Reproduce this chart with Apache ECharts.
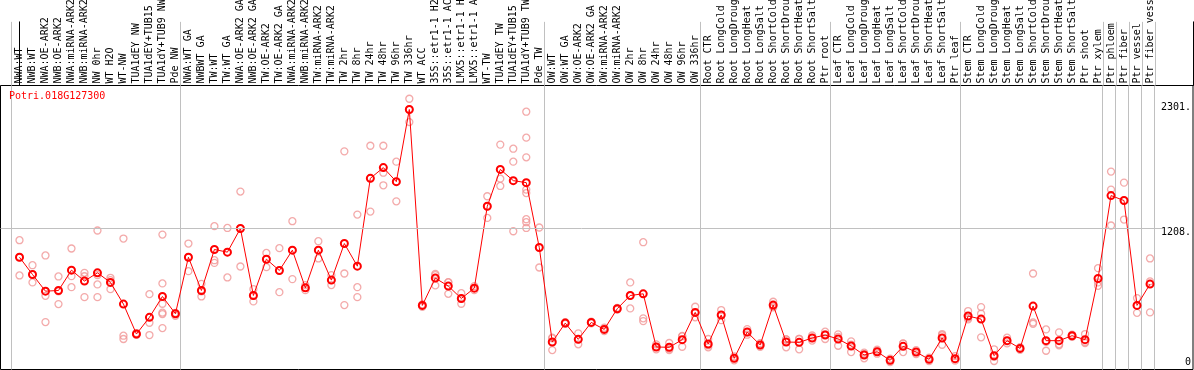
<!DOCTYPE html>
<html><head><meta charset="utf-8">
<script src="https://cdn.jsdelivr.net/npm/echarts@6/dist/echarts.min.js"></script>
<style>html,body{margin:0;padding:0;background:#fff}#c{width:1194px;height:370px}</style>
</head><body><div id="c"></div>
<script>
const geneId = 'Potri.018G127300';
const categories = [
 'NWA:WT','NWB:WT','NWA:OE-ARK2','NWB:OE-ARK2','NWA:miRNA-ARK2','NWB:miRNA-ARK2','NW 0hr','WT H2O','WT-NW','TUA1dEY NW','TUA1dEY+TUB15 NW','TUA1dY+TUB9 NW','Pde NW',
 'NWA:WT GA','NWBWT GA','TW:WT','TW:WT GA','NWA:OE-ARK2 GA','NWB:OE-ARK2 GA','TW:OE-ARK2','TW:OE-ARK2 GA','NWA:miRNA-ARK2 GA','NWB:miRNA-ARK2 GA','TW:miRNA-ARK2','TW:miRNA-ARK2 GA',
 'TW 2hr','TW 8hr','TW 24hr','TW 48hr','TW 96hr','TW 336hr','WT ACC','35S::etr1-1 H2O','35S::etr1-1 ACC','LMX5::etr1-1 H2O','LMX5::etr1-1 ACC','WT-TW','TUA1dEY TW','TUA1dEY+TUB15 TW','TUA1dY+TUB9 TW','Pde TW',
 'OW:WT','OW:WT GA','OW:OE-ARK2','OW:OE-ARK2 GA','OW:miRNA-ARK2','OW:miRNA-ARK2 GA','OW 2hr','OW 8hr','OW 24hr','OW 48hr','OW 96hr','OW 336hr',
 'Root CTR','Root LongCold','Root LongDrought','Root LongHeat','Root LongSalt','Root ShortCold','Root ShortDrought','Root ShortHeat','Root ShortSalt','Ptr root',
 'Leaf CTR','Leaf LongCold','Leaf LongDrought','Leaf LongHeat','Leaf LongSalt','Leaf ShortCold','Leaf ShortDrought','Leaf ShortHeat','Leaf ShortSalt','Ptr leaf',
 'Stem CTR','Stem LongCold','Stem LongDrought','Stem LongHeat','Stem LongSalt','Stem ShortCold','Stem ShortDrought','Stem ShortHeat','Stem ShortSalt','Ptr shoot','Ptr xylem',
 'Ptr phloem','Ptr fiber','Ptr vessel','Ptr fiber vessel'
];
const means = [
 948,792,641,647,831,732,807,720,524,253,404,593,437,
 948,647,1018,994,1208,602,930,828,1012,671,1012,741,1072,867,1662,1759,1632,2285,512,759,687,575,668,1409,1743,1641,1623,1036,
 181,352,205,358,295,482,602,617,136,133,202,449,
 163,425,33,271,154,515,181,178,217,244,
 208,145,63,93,15,142,90,24,217,30,
 416,388,57,193,123,506,193,193,238,202,756,
 1506,1461,512,705
];
const replicates = [
 [1102,948,783],[876,792,720],[964,599,361],[774,640,524],[1027,777,677],[807,776,587],[1190,786,702,587],[762,740,659],[1117,238,208],[262,250,247],[614,355,244],[1153,711,527,446,434,307],[445,437,418],
 [1072,948,822],[707,640,593],[1229,921,897],[1213,994,765],[1542,1208,864],[659,600,548],[987,930,858],[1030,828,632],[1274,1012,750],[696,671,650],[1093,1012,937],[786,741,696],
 [1906,801,515],[1334,677,587],[1957,1662,1361],[1957,1713,1599],[1813,1632,1454],[2382,2285,2171],[522,512,500],[798,786,693],[723,720,617],[623,575,527],[687,668,650],[1500,1409,1304],[1967,1659,1593],[1930,1813,1183],[2265,2030,1852,1560,1529,1292,1265,1213],[1217,1036,855],
 [214,220,108],[360,352,345],[259,205,160],[365,358,350],[310,295,280],[490,482,475],[720,602,485],[1084,395,370],[160,136,115],[172,120,108],[232,236,138],[500,445,404],
 [208,150,133],[470,425,379],[50,33,15],[298,268,247],[170,154,138],[545,505,494],[205,205,133],[208,210,115],[240,217,194],[274,250,208],
 [250,227,147],[187,158,90],[84,72,33],[111,93,75],[30,15,0],[169,167,90],[108,90,72],[40,24,8],[253,242,156],[54,24,12],
 [461,400,386],[497,437,223],[115,47,9],[220,190,169],[135,123,111],[801,358,346],[295,182,102],[268,160,151],[248,238,228],[253,172,181],[849,720,689],
 [1723,1560,1235],[1623,1461,1289],[578,512,445],[937,730,449]
];
const yTickValues = [0, 1208, 2301];
const referenceLine = 1208;
const groupStarts = [0, 13, 41, 53, 63, 73, 84, 85, 86, 87, 88];

// layout helpers
const X_MIN = -1.4615, X_MAX = 90.308;
const Y_MIN = -67.87, Y_MAX = 2502;
const boundaries = groupStarts.map(s => s - 0.64);
const catIdx = categories.map((c, i) => i);
const meanData = means.map((v, i) => [i, v]);
const repData = [];
replicates.forEach((arr, i) => arr.forEach(v => repData.push([i, v])));

const FONT = 'DejaVu Sans Mono';
const chart = echarts.init(document.getElementById('c'), null, {renderer: 'canvas'});
chart.setOption({
  animation: false,
  backgroundColor: '#fff',
  title: {
    text: geneId, left: 9, top: 91, padding: 0,
    textStyle: {color: '#ff0000', fontFamily: FONT, fontSize: 10, fontWeight: 'normal'}
  },
  grid: [
    {left: 0.5, right: 0.5, top: 85.5, bottom: 0.5, show: true, borderColor: '#000', borderWidth: 1, backgroundColor: 'transparent'},
    {left: 0.5, right: 0.5, top: 0, height: 85.5, show: false}
  ],
  xAxis: [
    {type: 'value', gridIndex: 0, min: X_MIN, max: X_MAX, position: 'bottom',
     axisLine: {show: false}, axisLabel: {show: false},
     axisTick: {show: false, customValues: boundaries},
     splitLine: {show: true, lineStyle: {color: '#c0c0c0', width: 1}}},
    {type: 'value', gridIndex: 1, min: X_MIN, max: X_MAX, position: 'bottom',
     axisLine: {show: false},
     axisTick: {show: false, customValues: boundaries},
     splitLine: {show: true, lineStyle: {color: '#c0c0c0', width: 1}},
     axisLabel: {show: true, inside: true, rotate: 90, margin: 2, customValues: catIdx,
       formatter: v => categories[Math.round(v)] || '',
       color: '#000', fontFamily: FONT, fontSize: 10}}
  ],
  yAxis: [
    {type: 'value', gridIndex: 0, min: Y_MIN, max: Y_MAX, position: 'right',
     axisLine: {show: false}, axisTick: {show: false, customValues: yTickValues},
     splitLine: {show: false},
     axisLabel: {show: true, inside: true, margin: 2, customValues: yTickValues,
       color: '#000', fontFamily: FONT, fontSize: 10,
       formatter: v => v === 0 ? '0' : (v === referenceLine ? '{lo|' + v + '.}' : v + '.'),
       rich: {lo: {padding: [8, 0, 0, 0], color: '#000', fontFamily: FONT, fontSize: 10}}}},
    {type: 'value', gridIndex: 1, min: 0, max: 1, position: 'left',
     axisLine: {show: true, lineStyle: {color: '#000', width: 1}},
     axisTick: {show: false}, axisLabel: {show: false}, splitLine: {show: false}},
    {type: 'value', gridIndex: 1, min: 0, max: 1, position: 'right',
     axisLine: {show: true, lineStyle: {color: '#000', width: 1}},
     axisTick: {show: false}, axisLabel: {show: false}, splitLine: {show: false}}
  ],
  series: [
    {type: 'scatter', xAxisIndex: 0, yAxisIndex: 0, data: repData, symbol: 'circle', symbolSize: 7,
     itemStyle: {color: 'rgba(0,0,0,0)', borderColor: '#f09595', borderWidth: 1.3}, silent: true, z: 2,
     markLine: {silent: true, symbol: 'none', label: {show: false}, animation: false,
       lineStyle: {color: '#c0c0c0', width: 1, type: 'solid'},
       data: [[{coord: [X_MIN, referenceLine]}, {coord: [87.96, referenceLine]}]]}},
    {type: 'line', xAxisIndex: 0, yAxisIndex: 0, data: meanData, symbol: 'circle', symbolSize: 7,
     showAllSymbol: true, z: 3,
     itemStyle: {color: 'rgba(0,0,0,0)', borderColor: '#ff0000', borderWidth: 2},
     lineStyle: {color: '#ff0000', width: 1}}
  ]
});
</script>
</body></html>
